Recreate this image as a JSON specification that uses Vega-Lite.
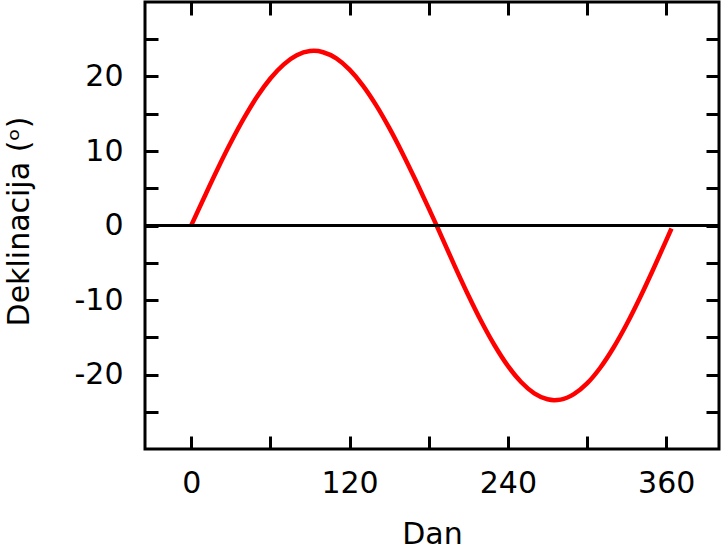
{
  "$schema": "https://vega.github.io/schema/vega-lite/v6.json",
  "width": 574,
  "height": 447,
  "autosize": {"type": "none"},
  "padding": {"left": 145, "top": 2, "right": 2, "bottom": 100},
  "background": "white",
  "config": {
    "view": {"stroke": "black", "strokeWidth": 3},
    "axis": {
      "grid": false,
      "domain": false,
      "labelFont": "DejaVu Sans",
      "titleFont": "DejaVu Sans",
      "labelFontSize": 30,
      "titleFontSize": 30,
      "titleFontWeight": "normal",
      "labelColor": "black",
      "titleColor": "black",
      "tickColor": "black",
      "tickWidth": 3,
      "tickSize": -13
    }
  },
  "layer": [
    {
      "data": {"values": [
        {"dan": 0, "dek": 0},
        {"dan": 10, "dek": 3.83},
        {"dan": 20, "dek": 7.58},
        {"dan": 30, "dek": 11.13},
        {"dan": 40, "dek": 14.40},
        {"dan": 50, "dek": 17.31},
        {"dan": 60, "dek": 19.73},
        {"dan": 70, "dek": 21.60},
        {"dan": 80, "dek": 22.85},
        {"dan": 90, "dek": 23.41},
        {"dan": 93, "dek": 23.44},
        {"dan": 100, "dek": 23.26},
        {"dan": 110, "dek": 22.43},
        {"dan": 120, "dek": 20.92},
        {"dan": 130, "dek": 18.82},
        {"dan": 140, "dek": 16.19},
        {"dan": 150, "dek": 13.13},
        {"dan": 160, "dek": 9.74},
        {"dan": 170, "dek": 6.10},
        {"dan": 180, "dek": 2.31},
        {"dan": 186, "dek": 0},
        {"dan": 190, "dek": -1.60},
        {"dan": 200, "dek": -5.55},
        {"dan": 210, "dek": -9.36},
        {"dan": 220, "dek": -12.92},
        {"dan": 230, "dek": -16.11},
        {"dan": 240, "dek": -18.85},
        {"dan": 250, "dek": -21.01},
        {"dan": 260, "dek": -22.53},
        {"dan": 270, "dek": -23.32},
        {"dan": 275, "dek": -23.44},
        {"dan": 280, "dek": -23.37},
        {"dan": 290, "dek": -22.64},
        {"dan": 300, "dek": -21.20},
        {"dan": 310, "dek": -19.09},
        {"dan": 320, "dek": -16.41},
        {"dan": 330, "dek": -13.26},
        {"dan": 340, "dek": -9.73},
        {"dan": 350, "dek": -5.94},
        {"dan": 360, "dek": -2.00},
        {"dan": 364, "dek": -0.40}
      ]},
      "mark": {"type": "line", "color": "#ff0000", "strokeWidth": 4.5, "interpolate": "monotone"},
      "encoding": {
        "x": {
          "field": "dan", "type": "quantitative",
          "scale": {"domain": [-35, 400], "nice": false, "zero": false},
          "axis": {
            "orient": "bottom", "title": "Dan",
            "values": [0, 60, 120, 180, 240, 300, 360],
            "labelExpr": "datum.value % 120 == 0 ? datum.label : ''",
            "labelPadding": 32, "titlePadding": 21
          }
        },
        "y": {
          "field": "dek", "type": "quantitative",
          "scale": {"domain": [-30, 30], "nice": false, "zero": false},
          "axis": {
            "orient": "left", "title": "Deklinacija (ᵒ)",
            "values": [-25, -20, -15, -10, -5, 0, 5, 10, 15, 20, 25],
            "labelExpr": "datum.value % 10 == 0 ? replace(datum.label, '\u2212', '-') : ''",
            "labelPadding": 35, "titlePadding": 40, "titleY": 219
          }
        }
      }
    },
    {
      "data": {"values": [{}]},
      "mark": {"type": "rule", "color": "black", "strokeWidth": 3},
      "encoding": {
        "y": {
          "datum": 0, "type": "quantitative",
          "scale": {"domain": [-30, 30], "nice": false, "zero": false},
          "axis": {
            "orient": "right", "title": null, "labels": false,
            "values": [-25, -20, -15, -10, -5, 0, 5, 10, 15, 20, 25]
          }
        }
      }
    },
    {
      "data": {"values": [{}]},
      "mark": {"type": "point", "opacity": 0},
      "encoding": {
        "x": {
          "datum": 0, "type": "quantitative",
          "scale": {"domain": [-35, 400], "nice": false, "zero": false},
          "axis": {
            "orient": "top", "title": null, "labels": false,
            "values": [0, 60, 120, 180, 240, 300, 360]
          }
        }
      }
    }
  ],
  "resolve": {"scale": {"x": "independent", "y": "independent"}}
}
